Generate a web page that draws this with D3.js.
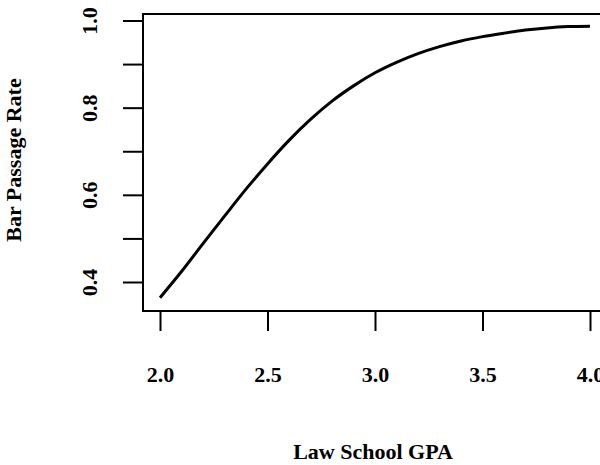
<!DOCTYPE html>
<html>
<head>
<meta charset="utf-8">
<script src="https://cdn.jsdelivr.net/npm/d3@7"></script>
<style>
html,body{margin:0;padding:0;background:#fff;}
svg{display:block;}
text{font-family:"Liberation Serif","DejaVu Serif",serif;font-weight:bold;fill:#000;}
</style>
</head>
<body>
<svg id="chart" width="600" height="465"></svg>
<script>
// Data
const gpa = [2.0,2.1,2.2,2.3,2.4,2.5,2.6,2.7,2.8,2.9,3.0,3.1,3.2,3.3,3.4,3.5,3.6,3.7,3.8,3.9,4.0];
const passRate = [0.364,0.424,0.488,0.551,0.613,0.671,0.725,0.773,0.815,0.850,0.880,0.904,0.924,0.940,0.953,0.963,0.971,0.978,0.983,0.986,0.987];
const xTicks = [2.0,2.5,3.0,3.5,4.0];
const yTicks = [0.4,0.5,0.6,0.7,0.8,0.9,1.0];
const yTickLabels = [0.4,0.6,0.8,1.0];
const xTitle = "Law School GPA";
const yTitle = "Bar Passage Rate";

const svg = d3.select("#chart");
const x = d3.scaleLinear().domain([2,4]).range([160,590]);
const y = d3.scaleLinear().domain([0.4,1.0]).range([282,20.5]);

const box = {left:143, top:14, bottom:311, right:603};

// plot box
svg.append("rect")
  .attr("x",box.left).attr("y",box.top)
  .attr("width",box.right-box.left).attr("height",box.bottom-box.top)
  .attr("fill","none").attr("stroke","#000").attr("stroke-width",2);

// x axis
const xAxis = d3.axisBottom(x).tickValues(xTicks).tickSize(20).tickPadding(0).tickFormat(d3.format(".1f"));
const gx = svg.append("g").attr("transform",`translate(0,${box.bottom})`).call(xAxis);
gx.select(".domain").remove();
gx.selectAll(".tick line").attr("stroke","#000").attr("stroke-width",2);
gx.selectAll(".tick text").attr("y",71).attr("dy",0)
  .style("font-size","22px").style("font-family","'Liberation Serif',serif").style("font-weight","bold").attr("fill","#000");

// y axis
const yAxis = d3.axisLeft(y).tickValues(yTicks).tickSize(20).tickPadding(0)
  .tickFormat(d => yTickLabels.some(v => Math.abs(v-d)<1e-9) ? d3.format(".1f")(d) : "");
const gy = svg.append("g").attr("transform",`translate(${box.left},0)`).call(yAxis);
gy.select(".domain").remove();
gy.selectAll(".tick line").attr("stroke","#000").attr("stroke-width",2);
gy.selectAll(".tick text")
  .attr("x",null).attr("dy",null)
  .attr("text-anchor","middle")
  .attr("transform","translate(-46,0) rotate(-90)")
  .style("font-size","22px").style("font-family","'Liberation Serif',serif").style("font-weight","bold").attr("fill","#000");

// curve
const line = d3.line().x((d,i)=>x(gpa[i])).y(d=>y(d)).curve(d3.curveMonotoneX);
svg.append("path").datum(passRate)
  .attr("d",line).attr("fill","none").attr("stroke","#000").attr("stroke-width",3);

// titles
svg.append("text").attr("x",373).attr("y",459).attr("text-anchor","middle")
  .style("font-size","22px").text(xTitle);
svg.append("text").attr("transform","translate(21,160) rotate(-90)").attr("text-anchor","middle")
  .style("font-size","22px").text(yTitle);
</script>
</body>
</html>
